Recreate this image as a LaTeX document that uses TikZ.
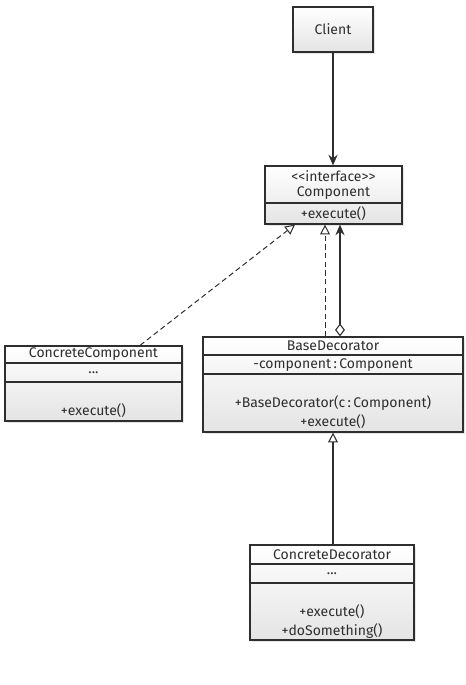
\documentclass[tikz,border=0pt]{standalone}
\usepackage{fontspec}
\setmainfont{Fira Sans}
\usetikzlibrary{arrows.meta,positioning,calc,shadows}
\definecolor{umlline}{HTML}{2E2E2E}
\definecolor{umlfill}{HTML}{E4E4E4}
\tikzset{
  umlbox/.style={draw=umlline, line width=0.9pt, top color=white, bottom color=umlfill,
    drop shadow={opacity=0.2, shadow xshift=1.6pt, shadow yshift=-1.6pt}, inner sep=0pt},
  txt/.style={font=\fontsize{10.5}{12}\selectfont, inner sep=0pt, text=umlline},
  sep/.style={draw=umlline, line width=0.8pt},
  assoc/.style={-{Stealth[length=2.8mm, width=2.4mm]}, line width=0.8pt, draw=umlline},
  realize/.style={-{Triangle[open, fill=white, length=2.6mm, width=2.6mm]}, dashed,
    dash pattern=on 4pt off 2.5pt, line width=0.75pt, draw=umlline},
  inherit/.style={-{Triangle[open, fill=white, length=2.6mm, width=2.6mm]}, line width=0.8pt, draw=umlline},
  aggr/.style={{Diamond[open, fill=white, length=3.4mm, width=2.6mm]}-{Stealth[length=2.8mm, width=2.4mm]},
    line width=0.8pt, draw=umlline}
}
\begin{document}
\begin{tikzpicture}[x=0.75pt,y=-0.75pt]
  \useasboundingbox (0,0) rectangle (466,685);
  % classes
  \node[umlbox, minimum width=80*0.75pt, minimum height=45*0.75pt] (client) at (333,29.5) {};
  \node[umlbox, minimum width=137*0.75pt, minimum height=58*0.75pt] (comp) at (333.5,195) {};
  \node[umlbox, minimum width=177*0.75pt, minimum height=75*0.75pt] (cc) at (93.5,383.5) {};
  \node[umlbox, minimum width=260*0.75pt, minimum height=95*0.75pt] (bd) at (333,384.5) {};
  \node[umlbox, minimum width=164*0.75pt, minimum height=95*0.75pt] (cd) at (332,592.5) {};
  % compartments
  \draw[sep] (comp.west |- 0,203) -- (comp.east |- 0,203);
  \draw[sep] (cc.west |- 0,363) -- (cc.east |- 0,363);
  \draw[sep] (cc.west |- 0,382) -- (cc.east |- 0,382);
  \draw[sep] (bd.west |- 0,355) -- (bd.east |- 0,355);
  \draw[sep] (bd.west |- 0,374) -- (bd.east |- 0,374);
  \draw[sep] (cd.west |- 0,564) -- (cd.east |- 0,564);
  \draw[sep] (cd.west |- 0,583) -- (cd.east |- 0,583);
  % texts
  \node[txt] (clientname) at (333,29) {Client};
  \node[txt] (compstereo) at (333.5,176) {<\kern0pt<interface>\kern0pt>};
  \node[txt] (compname) at (333.5,193) {Component};
  \node[txt] (compop) at (333.5,213.5) {+execute()};
  \node[txt] (ccname) at (93.5,354) {ConcreteComponent};
  \node[txt] (ccattr) at (93.5,372.5) {...};
  \node[txt] (ccop) at (93.5,411) {+execute()};
  \node[txt] (bdname) at (333,346) {BaseDecorator};
  \node[txt] (bdattr) at (333,365) {-component\,:\,Component};
  \node[txt] (bdctor) at (333,403.5) {+BaseDecorator(c\,:\,Component)};
  \node[txt] (bdop) at (333,421.5) {+execute()};
  \node[txt] (cdname) at (332,555) {ConcreteDecorator};
  \node[txt] (cdattr) at (332,574) {...};
  \node[txt] (cdop) at (332,612) {+execute()};
  \node[txt] (cdop2) at (332,631) {+doSomething()};
  % relations
  \draw[assoc] (client.south -| 333,0) -- (comp.north -| 333,0);
  \draw[realize] (cc.north -| 140,0) -- (comp.south -| 295,0);
  \draw[realize] (bd.north -| 325,0) -- (comp.south -| 325,0);
  \draw[aggr] (bd.north -| 340,0) -- (comp.south -| 340,0);
  \draw[inherit] (cd.north -| 333,0) -- (bd.south -| 333,0);
\end{tikzpicture}
\end{document}
